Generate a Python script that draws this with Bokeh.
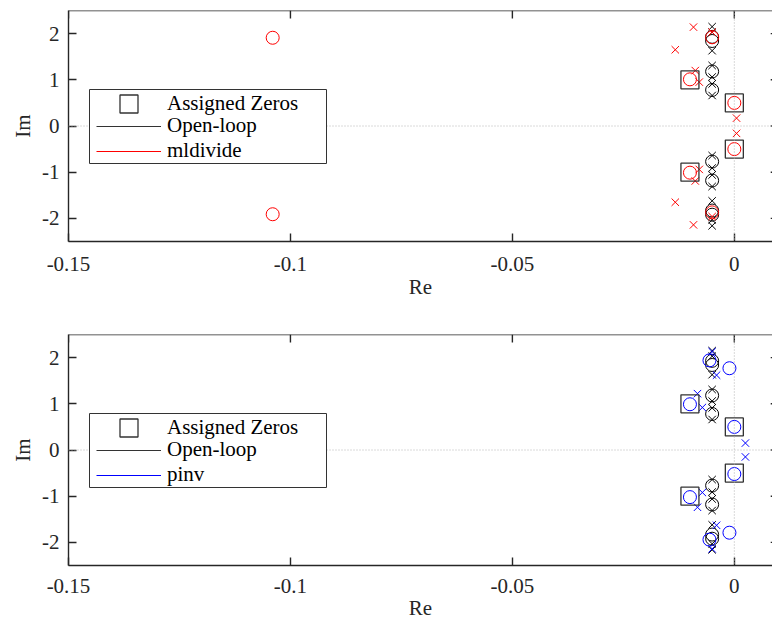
import math
from bokeh.plotting import figure
from bokeh.models import Span, Legend, LegendItem, FixedTicker, BoxAnnotation
from bokeh.layouts import column
from bokeh.embed import file_html
from bokeh.resources import INLINE

FONT = "Liberation Serif"
FS = "21px"
AX_COLOR = "#262626"

# axis ranges and ticks
x_start, x_box_end, x_view_end = -0.15, 0.01, 0.0086
y_start, y_end = -2.5, 2.5
x_ticks = [-0.15, -0.1, -0.05, 0]
x_tick_labels = ["-0.15", "-0.1", "-0.05", "0"]
y_ticks = [-2, -1, 0, 1, 2]
y_tick_labels = ["-2", "-1", "0", "1", "2"]

# assigned zeros
assigned_re = [-0.01, -0.01, 0.0, 0.0]
assigned_im = [1.0, -1.0, 0.5, -0.5]

# open-loop zeros / poles
ol_zero_re = [-0.005, -0.005, -0.005, -0.005, -0.005, -0.005, -0.005, -0.005]
ol_zero_im = [0.78, -0.77, 1.18, -1.18, 1.84, -1.83, 1.93, -1.92]
ol_pole_re = [-0.005] * 14
ol_pole_im = [0.66, -0.64, 0.91, -0.91, 1.06, -1.06, 1.31, -1.31,
              1.63, -1.62, 2.03, -2.03, 2.15, -2.16]

# mldivide zeros / poles
ml_zero_re = [-0.104, -0.104, -0.01, -0.01, 0.0, 0.0, -0.005, -0.005]
ml_zero_im = [1.91, -1.91, 1.01, -1.01, 0.5, -0.5, 1.92, -1.87]
ml_pole_re = [-0.0133, -0.0133, -0.0092, -0.0092, -0.0088, -0.0088,
              -0.0079, -0.0079, 0.0005, 0.0005, -0.005, -0.005]
ml_pole_im = [1.65, -1.65, 2.14, -2.14, 1.2, -1.19, 0.95, -0.94,
              0.17, -0.16, 2.03, -1.96]

# pinv zeros / poles
pv_zero_re = [-0.0056, -0.0056, -0.0011, -0.0011, -0.01, -0.01, 0.0, 0.0]
pv_zero_im = [1.94, -1.94, 1.77, -1.79, 0.99, -1.02, 0.5, -0.52]
pv_pole_re = [-0.005, -0.005, -0.004, -0.004, -0.0083, -0.0083,
              -0.0072, -0.0072, 0.0025, 0.0025]
pv_pole_im = [2.13, -2.14, 1.62, -1.63, 1.22, -1.24, 0.92, -0.92,
              0.15, -0.15]

NAN = [float("nan")]


def style_axis(ax):
    ax.axis_line_color = AX_COLOR
    ax.axis_line_width = 1.4
    ax.major_tick_line_color = AX_COLOR
    ax.major_tick_line_width = 1.4
    ax.major_tick_in = 8
    ax.major_tick_out = 0
    ax.minor_tick_line_color = None
    ax.major_label_text_font = FONT
    ax.major_label_text_font_size = FS
    ax.major_label_text_color = AX_COLOR
    ax.axis_label_text_font = FONT
    ax.axis_label_text_font_size = FS
    ax.axis_label_text_font_style = "normal"
    ax.axis_label_text_color = AX_COLOR


def make_panel(name, zr, zi, pr, pi, color, height, top, bottom,
               lab_standoff, ax_standoff):
    p = figure(width=772, height=height, x_range=(x_start, x_view_end),
               y_range=(y_start, y_end), output_backend="svg",
               toolbar_location=None, min_border_left=68,
               min_border_right=0, min_border_top=top,
               min_border_bottom=bottom, x_axis_label="Re",
               y_axis_label="Im")
    p.outline_line_color = None
    p.xgrid.visible = False
    p.ygrid.visible = False

    p.xaxis.ticker = FixedTicker(ticks=x_ticks)
    p.xaxis.major_label_overrides = dict(zip(x_ticks, x_tick_labels))
    p.yaxis.ticker = FixedTicker(ticks=y_ticks)
    p.yaxis.major_label_overrides = dict(zip(y_ticks, y_tick_labels))
    style_axis(p.xaxis[0])
    style_axis(p.yaxis[0])
    p.xaxis.major_label_standoff = lab_standoff
    p.xaxis.axis_label_standoff = ax_standoff
    p.yaxis.major_label_standoff = 9
    p.yaxis.axis_label_standoff = 4

    # top border of the box and its inward ticks, right-side inward ticks
    p.add_layout(Span(location=y_end, dimension="width", line_color=AX_COLOR,
                      line_width=1.4))
    p.ray(x=x_ticks, y=[y_end] * len(x_ticks), length=8, length_units="screen",
          angle=-math.pi / 2, line_color=AX_COLOR, line_width=1.4)
    p.ray(x=[x_box_end] * len(y_ticks), y=y_ticks, length=8,
          length_units="screen", angle=math.pi, line_color=AX_COLOR,
          line_width=1.4)
    # zero lines
    for dim in ("height", "width"):
        p.add_layout(Span(location=0, dimension=dim, line_color="#b4b4b4",
                          line_width=1, line_dash="1 2"))

    # open loop
    p.scatter(ol_zero_re, ol_zero_im, marker="circle", size=13,
              fill_color=None, line_color="black", line_width=1)
    p.scatter(ol_pole_re, ol_pole_im, marker="x", size=10.5,
              line_color="black", line_width=1)
    # series
    p.scatter(zr, zi, marker="circle", size=13, fill_color=None,
              line_color=color, line_width=1)
    p.scatter(pr, pi, marker="x", size=10.5, line_color=color, line_width=1)
    # assigned zeros
    sq = p.scatter(assigned_re, assigned_im, marker="square", size=18,
                   fill_color=None, line_color="#333333", line_width=1.3)

    ol_line = p.line(x=NAN, y=NAN, line_color="#333333", line_width=1.2)
    s_line = p.line(x=NAN, y=NAN, line_color=color, line_width=1.2)

    # legend frame
    p.add_layout(BoxAnnotation(left=21, right=258, bottom=78, top=152,
                               left_units="screen", right_units="screen",
                               bottom_units="screen", top_units="screen",
                               fill_color="white", fill_alpha=1,
                               line_color="#333333", line_width=1,
                               line_alpha=1))
    common = dict(border_line_color=None, background_fill_alpha=0,
                  label_text_font=FONT, label_text_font_size=FS,
                  label_text_color="black", padding=0, margin=0)
    leg_a = Legend(items=[LegendItem(label="Assigned Zeros", renderers=[sq])],
                   location=(38, 115), glyph_width=45, glyph_height=45,
                   label_height=45, label_standoff=16, spacing=0, **common)
    leg_b = Legend(items=[LegendItem(label="Open-loop", renderers=[ol_line]),
                          LegendItem(label=name, renderers=[s_line])],
                   location=(28, 78), glyph_width=65, glyph_height=22,
                   label_height=22, label_standoff=6, spacing=0, **common)
    p.add_layout(leg_a, "center")
    p.add_layout(leg_b, "center")
    return p


p1 = make_panel("mldivide", ml_zero_re, ml_zero_im, ml_pole_re, ml_pole_im,
                "#ff0000", 320, 10, 79, 15, 1)
p2 = make_panel("pinv", pv_zero_re, pv_zero_im, pv_pole_re, pv_pole_im,
                "#0000ff", 303, 14, 58, 13, 0)

layout = column(p1, p2, spacing=0)
open("out.html", "w").write(file_html(layout, INLINE))
